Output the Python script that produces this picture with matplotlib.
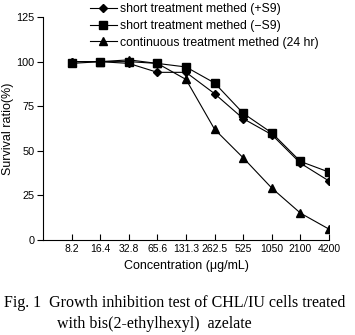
import matplotlib
matplotlib.use("Agg")
import matplotlib.pyplot as plt

concentrations = ["8.2", "16.4", "32.8", "65.6", "131.3", "262.5", "525", "1050", "2100", "4200"]
plus_s9 = [100, 100, 99, 94, 94, 82, 68, 59, 43, 33]
minus_s9 = [99, 100, 100, 99, 97, 88, 71, 60, 44, 38]
continuous = [100, 100, 101, 99, 90, 62, 46, 29, 15, 6]
yticks = [0, 25, 50, 75, 100, 125]

plt.rcParams["font.family"] = ["Liberation Sans", "DejaVu Sans"]

fig = plt.figure(figsize=(3.55, 3.35), dpi=100)
ax = fig.add_axes([0.121, 0.284, 0.806, 0.665])

x = list(range(1, len(concentrations) + 1))
ax.plot(x, plus_s9, color="black", lw=0.8, marker="D", ms=3.8, label="short treatment methed (+S9)")
ax.plot(x, minus_s9, color="black", lw=0.8, marker="s", ms=5.5, label="short treatment methed (\u2212S9)")
ax.plot(x, continuous, color="black", lw=0.8, marker="^", ms=5.5, label="continuous treatment methed (24 hr)")

ax.set_xlim(0, 10)
ax.set_ylim(0, 125)
ax.set_xticks(x)
ax.set_xticklabels(concentrations, fontsize=7.5)
ax.set_yticks(yticks)
ax.set_yticklabels([str(v) for v in yticks], fontsize=7.8)
ax.tick_params(axis="x", direction="in", length=4, width=0.8, pad=3)
ax.tick_params(axis="y", direction="out", length=4, width=0.8, pad=2)
for side in ["top", "right"]:
    ax.spines[side].set_visible(False)
for side in ["left", "bottom"]:
    ax.spines[side].set_linewidth(0.8)

ax.set_xlabel("Concentration (\u03bcg/mL)", fontsize=9, labelpad=4)
ax.set_ylabel("Survival ratio(%)", fontsize=9, labelpad=2)

ax.legend(loc="upper left", bbox_to_anchor=(0.164, 1.062), frameon=False, fontsize=8.8,
          handlelength=2.2, handletextpad=0.25, labelspacing=0.38, borderaxespad=0, borderpad=0)

fig.text(0.01, 0.085, "Fig. 1  Growth inhibition test of CHL/IU cells treated",
         family=["Liberation Serif", "DejaVu Serif"], fontsize=11.5)
fig.text(0.16, 0.022, "with bis(2-ethylhexyl)  azelate",
         family=["Liberation Serif", "DejaVu Serif"], fontsize=11.5)

fig.savefig("out.png", dpi=100)
